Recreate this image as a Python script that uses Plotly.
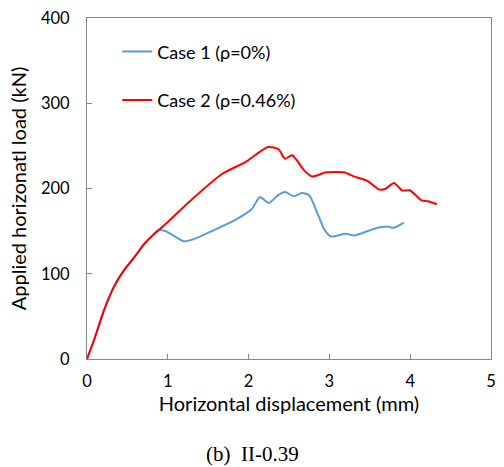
import plotly.graph_objects as go

case1_x = [0, 0.086, 0.21, 0.33, 0.45, 0.58, 0.70, 0.80, 0.88, 0.96, 1.05, 1.20, 1.30, 1.83, 2.04, 2.14, 2.25, 2.37, 2.45, 2.56, 2.66, 2.75, 2.86, 2.94, 3.02, 3.20, 3.31, 3.55, 3.71, 3.80, 3.92]
case1_y = [0, 22, 57, 84, 103, 118.6, 133.5, 144, 151, 150.5, 146, 138, 140, 163, 176, 190, 183, 192.6, 196, 191, 194.6, 192, 169, 151.4, 143.7, 146.8, 144.9, 152.6, 155.3, 154, 160]

case2_x = [0, 0.086, 0.21, 0.33, 0.45, 0.58, 0.70, 0.82, 0.98, 1.26, 1.67, 1.96, 2.24, 2.37, 2.45, 2.54, 2.69, 2.79, 2.96, 3.18, 3.31, 3.47, 3.61, 3.69, 3.80, 3.90, 4.0, 4.14, 4.22, 4.33]
case2_y = [0, 22, 57, 84, 103, 118.6, 134, 145.6, 159, 184, 217, 231, 248.6, 246, 235, 239, 221, 214, 219, 219, 214, 209, 199, 199.5, 206.5, 197.7, 197.7, 186, 185, 181.5]

x_ticks = [0, 1, 2, 3, 4, 5]
y_ticks = [0, 100, 200, 300, 400]

FONT = "Lato, Open Sans, sans-serif"

fig = go.Figure()
fig.add_trace(go.Scatter(x=case1_x, y=case1_y, mode="lines", name="Case 1 (ρ=0%)",
                         line=dict(color="#5B9BD5", width=2, shape="spline", smoothing=0.6),
                         legendgroup="a"))
fig.add_trace(go.Scatter(x=case2_x, y=case2_y, mode="lines", name="Case 2 (ρ=0.46%)",
                         line=dict(color="#FF0000", width=2, shape="spline", smoothing=0.6),
                         legendgroup="b"))

axis_common = dict(showline=True, linecolor="#868686", linewidth=1, mirror=True,
                   ticks="inside", ticklen=5, tickcolor="#868686", showgrid=False,
                   zeroline=False, tickfont=dict(family=FONT, size=16.5, color="#000"))

fig.update_xaxes(range=[0, 5], tickvals=x_ticks, ticktext=[str(v) for v in x_ticks],
                 title=dict(text="Horizontal displacement (mm)", font=dict(family=FONT, size=20, color="#000"), standoff=6),
                 ticklabelstandoff=7, **axis_common)
fig.update_yaxes(range=[0, 400], tickvals=y_ticks, ticktext=[str(v) for v in y_ticks],
                 title=dict(text="Applied horizonatl load (kN)", font=dict(family=FONT, size=20, color="#000"), standoff=8),
                 ticklabelstandoff=13, **axis_common)

fig.update_layout(
    width=504, height=467,
    margin=dict(l=87, r=8, t=13, b=108),
    paper_bgcolor="white", plot_bgcolor="white",
    showlegend=True,
    legend=dict(x=0.075, y=0.955, xanchor="left", yanchor="top", bgcolor="rgba(0,0,0,0)",
                font=dict(family=FONT, size=18, color="#000"), tracegroupgap=22,
                itemwidth=30),
    annotations=[dict(text="(b)  II-0.39", xref="paper", yref="paper", x=0.41, y=-0.28,
                      xanchor="center", yanchor="middle", showarrow=False,
                      font=dict(family="Liberation Serif, serif", size=21, color="#000"))],
)

fig.write_html("out.html")
